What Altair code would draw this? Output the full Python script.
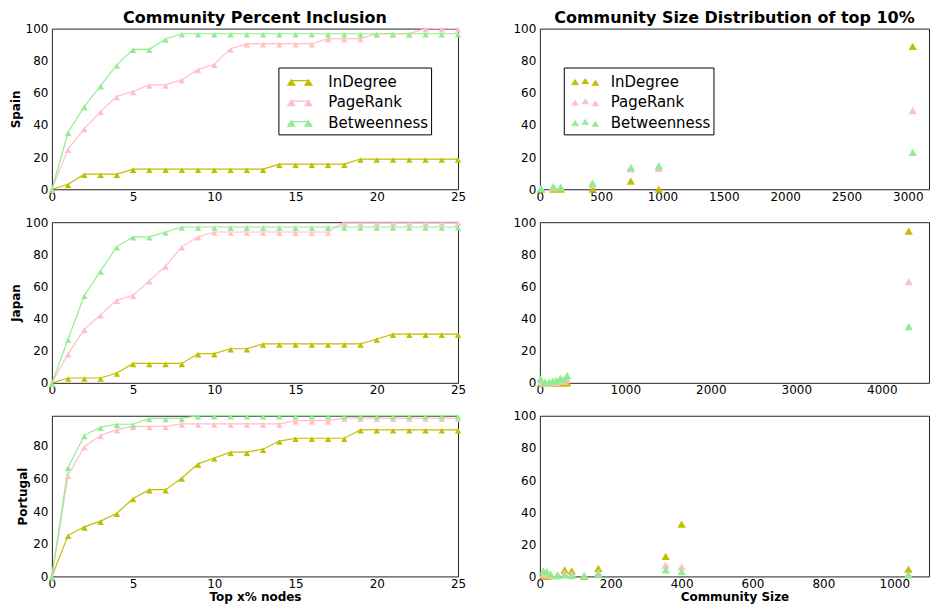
import altair as alt
import pandas as pd

SERIES = ["InDegree", "PageRank", "Betweenness"]
COLORS = ["#bfbf00", "#ffc0cb", "#90ee90"]
FONT = "DejaVu Sans"

# ---------- left column: Community Percent Inclusion ----------
x_pct = list(range(26))

spain_indeg = [0, 3.1, 9.4, 9.4, 9.4, 12.5, 12.5, 12.5, 12.5, 12.5, 12.5, 12.5, 12.5, 12.5,
               15.6, 15.6, 15.6, 15.6, 15.6, 18.8, 18.8, 18.8, 18.8, 18.8, 18.8, 18.8]
spain_pagerank = [0, 25.0, 37.8, 48.4, 57.8, 60.9, 65.0, 65.0, 68.2, 74.6, 77.8, 87.5, 90.6, 90.6,
                  90.6, 90.6, 90.6, 93.8, 93.8, 93.8, 96.9, 96.9, 96.9, 100, 100, 100]
spain_betw = [0, 35.5, 51.6, 64.5, 77.4, 87.1, 87.1, 93.5] + [96.8] * 18

japan_indeg = [0, 3.0, 3.0, 3.0, 6.1, 12.1, 12.1, 12.1, 12.1, 18.2, 18.2, 21.2, 21.2, 24.2,
               24.2, 24.2, 24.2, 24.2, 24.2, 24.2, 27.3, 30.3, 30.3, 30.3, 30.3, 30.3]
japan_pagerank = [0, 18.2, 33.3, 42.4, 51.5, 54.5, 63.6, 72.7, 84.8, 90.9] + [93.9] * 8 + [100] * 8
japan_betw = [0, 27.3, 54.5, 69.7, 84.8, 90.9, 90.9, 93.9] + [97.0] * 18

portugal_indeg = [0, 25.2, 30.4, 33.9, 38.7, 47.8, 53.2, 53.2, 60.3, 69.0, 72.6, 76.2, 76.2, 78.0,
                  83.0, 84.7, 84.7, 84.7, 84.7] + [89.9] * 7
portugal_pagerank = [0, 62.0, 79.5, 86.5, 90.0, 92.0, 92.0, 92.0] + [93.5] * 7 + [95.5] * 3 + [97.0] * 8
portugal_betw = [0, 67.0, 86.5, 91.5, 93.3, 93.3, 96.9, 96.9, 96.9] + [98.5] * 17

# ---------- right column: Community Size Distribution of top 10% ----------
spain_sizes = [10, 110, 170, 430, 742, 970, 3040]
spain_r_indeg = [0, 0, 0, 0, 5.0, 0, 89.0]
spain_r_pagerank = [0.5, 1.0, 1.0, 3.0, 12.5, 13.0, 49.0]
spain_r_betw = [0.5, 1.8, 1.2, 3.9, 13.6, 14.6, 23.0]

japan_sizes = [10, 60, 110, 150, 190, 240, 280, 320, 4315]
japan_r_indeg = [0, 0, 0, 0, 0, 0, 0, 0, 94.5]
japan_r_pagerank = [0.5, 0, 0, 0.5, 0.5, 1.0, 1.0, 2.0, 63.0]
japan_r_betw = [2.5, 0.5, 0.5, 1.0, 1.5, 3.0, 2.0, 4.5, 35.0]

portugal_sizes = [10, 20, 30, 50, 70, 90, 125, 165, 355, 400, 1040]
portugal_r_indeg = [0.5, 0, 0.5, 1.0, 4.0, 3.5, 0, 5.0, 12.5, 32.5, 4.5]
portugal_r_pagerank = [1.5, 1.0, 1.0, 0.5, 2.0, 1.5, 0.5, 2.5, 7.0, 6.0, 1.5]
portugal_r_betw = [3.5, 3.0, 1.5, 0.5, 1.0, 0.5, 0.5, 1.5, 4.0, 3.0, 1.0]

pct_ticks = [0, 5, 10, 15, 20, 25]
y_ticks = [0, 20, 40, 60, 80, 100]

LEFT_W, RIGHT_W, H = 407, 390, 161

LINE_SYMBOL = ("M-1.12,0.3L-0.8,-0.2L-0.48,0.3Z M0.48,0.3L0.8,-0.2L1.12,0.3Z "
               "M-0.8,-0.12L0.8,-0.12")
TRI_SYMBOL = ("M-1.32,0.28L-0.95,-0.28L-0.58,0.28Z M-0.37,0.18L0,-0.38L0.37,0.18Z "
              "M0.58,0.36L0.95,-0.2L1.32,0.36Z")


def make_df(xs, a, b, c):
    return pd.DataFrame({
        "x": list(xs) * 3,
        "y": list(a) + list(b) + list(c),
        "series": [SERIES[0]] * len(a) + [SERIES[1]] * len(b) + [SERIES[2]] * len(c),
    })


def legend_obj(symbol, lx, ly, label_offset):
    return alt.Legend(orient="none", legendX=lx, legendY=ly, title=None,
                      symbolType=symbol, symbolSize=462, symbolStrokeWidth=1.3,
                      symbolOffset=7, labelFont=FONT, labelFontSize=15, labelColor="#000",
                      labelOffset=label_offset, padding=3, rowPadding=0.5,
                      fillColor="white", strokeColor="#000", cornerRadius=0)


def left_panel(df, ymax, yticks, ytitle, xtitle, title, legend):
    cscale = alt.Scale(domain=SERIES, range=COLORS)
    if legend:
        color = alt.Color("series:N", scale=cscale, sort=SERIES,
                          legend=legend_obj(LINE_SYMBOL, 227, 39, 17))
    else:
        color = alt.Color("series:N", scale=cscale, sort=SERIES, legend=None)
    xenc = alt.X("x:Q", scale=alt.Scale(domain=[0, 25], nice=False),
                 axis=alt.Axis(values=pct_ticks, title=xtitle, format="d"))
    yenc = alt.Y("y:Q", scale=alt.Scale(domain=[0, ymax], nice=False),
                 axis=alt.Axis(values=yticks, title=ytitle, format="d"))
    base = alt.Chart(df)
    line = base.mark_line(strokeWidth=1.2).encode(x=xenc, y=yenc, color=color,
                                                 order=alt.Order("x:Q"))
    pts = base.mark_point(shape="triangle-up", filled=True, size=42, opacity=1,
                          yOffset=1).encode(x=xenc, y=yenc, color=color)
    ch = alt.layer(line, pts).properties(width=LEFT_W, height=H)
    if title:
        ch = ch.properties(title=alt.TitleParams(title, font=FONT, fontSize=16, fontWeight="bold",
                                                 anchor="middle", offset=-3, color="#000"))
    return ch


def right_panel(df, xmax, xticks, xtitle, title, legend):
    cscale = alt.Scale(domain=SERIES, range=COLORS)
    if legend:
        color = alt.Color("series:N", scale=cscale, sort=SERIES,
                          legend=legend_obj(TRI_SYMBOL, 24, 39, 14))
    else:
        color = alt.Color("series:N", scale=cscale, sort=SERIES, legend=None)
    ch = alt.Chart(df).mark_point(shape="triangle-up", filled=True, size=70, opacity=1).encode(
        x=alt.X("x:Q", scale=alt.Scale(domain=[0, xmax], nice=False),
                axis=alt.Axis(values=xticks, title=xtitle, format="d")),
        y=alt.Y("y:Q", scale=alt.Scale(domain=[0, 100], nice=False),
                axis=alt.Axis(values=y_ticks, title=None, format="d")),
        color=color,
    ).properties(width=RIGHT_W, height=H)
    if title:
        ch = ch.properties(title=alt.TitleParams(title, font=FONT, fontSize=16, fontWeight="bold",
                                                 anchor="middle", offset=-3, color="#000"))
    return ch


charts = [
    left_panel(make_df(x_pct, spain_indeg, spain_pagerank, spain_betw), 100, y_ticks,
               "Spain", None, "Community Percent Inclusion", True),
    right_panel(make_df(spain_sizes, spain_r_indeg, spain_r_pagerank, spain_r_betw), 3173,
                [0, 500, 1000, 1500, 2000, 2500, 3000], None,
                "Community Size Distribution of top 10%", True),
    left_panel(make_df(x_pct, japan_indeg, japan_pagerank, japan_betw), 100, y_ticks,
               "Japan", None, None, False),
    right_panel(make_df(japan_sizes, japan_r_indeg, japan_r_pagerank, japan_r_betw), 4552,
                [0, 1000, 2000, 3000, 4000], None, None, False),
    left_panel(make_df(x_pct, portugal_indeg, portugal_pagerank, portugal_betw), 98.5,
               [0, 20, 40, 60, 80], "Portugal", "Top x% nodes", None, False),
    right_panel(make_df(portugal_sizes, portugal_r_indeg, portugal_r_pagerank, portugal_r_betw), 1098,
                [0, 200, 400, 600, 800, 1000], "Community Size", None, False),
]

chart = alt.concat(*charts, columns=2, spacing={"row": 33, "column": 82}, bounds="flush").resolve_scale(
    color="independent"
).properties(padding=0).configure_view(
    stroke="#222", strokeWidth=1
).configure_axis(
    grid=False, domain=False, ticks=False, labelPadding=3, labelFlush=False,
    labelFont=FONT, labelFontSize=12, labelColor="#000",
    titleFont=FONT, titleFontSize=12, titleFontWeight="bold", titleColor="#000", titlePadding=3,
).configure_axisX(labelPadding=2, titlePadding=2).configure_axisY(labelPadding=4)

chart.save("out.html", embed_options={"renderer": "svg", "actions": False})
